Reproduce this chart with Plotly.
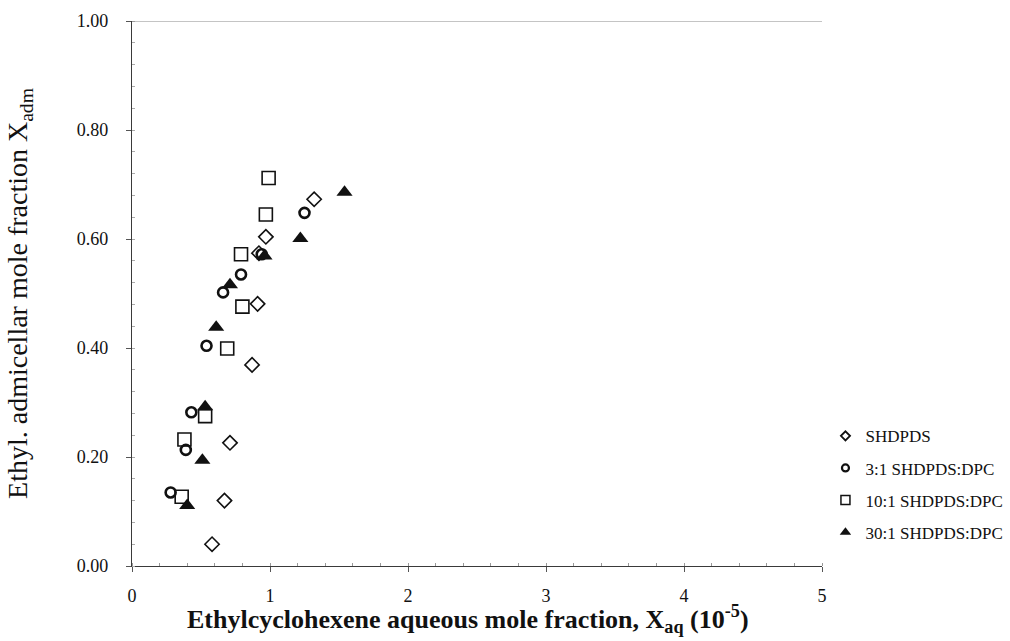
import plotly.graph_objects as go

# Ethylcyclohexene aqueous mole fraction (x 1e-5) and admicellar mole fraction
shdpds_x = [0.58, 0.67, 0.71, 0.87, 0.91, 0.92, 0.97, 1.32]
shdpds_y = [0.04, 0.12, 0.226, 0.369, 0.481, 0.574, 0.604, 0.673]

r3_x = [0.28, 0.39, 0.43, 0.54, 0.66, 0.79, 0.94, 1.25]
r3_y = [0.135, 0.213, 0.282, 0.404, 0.502, 0.535, 0.572, 0.648]

r10_x = [0.36, 0.38, 0.53, 0.69, 0.80, 0.79, 0.97, 0.99]
r10_y = [0.127, 0.232, 0.275, 0.399, 0.476, 0.572, 0.645, 0.712]

r30_x = [0.40, 0.51, 0.53, 0.61, 0.71, 0.96, 1.22, 1.54]
r30_y = [0.111, 0.194, 0.292, 0.438, 0.516, 0.569, 0.601, 0.686]

series_names = ["SHDPDS", "3:1 SHDPDS:DPC", "10:1 SHDPDS:DPC", "30:1 SHDPDS:DPC"]

x_ticks = [0, 1, 2, 3, 4, 5]
y_ticks = [0.0, 0.2, 0.4, 0.6, 0.8, 1.0]
y_tick_text = ["0.00", "0.20", "0.40", "0.60", "0.80", "1.00"]

x_title = "<b>Ethylcyclohexene aqueous mole fraction, X<sub>aq</sub> (10<sup>-5</sup>)</b>"
y_title = "Ethyl. admicellar mole fraction X<sub>adm</sub>"

SERIF = "Liberation Serif, Times New Roman, serif"
INK = "#111111"

styles = [
    dict(symbol="diamond-open", size=11, color=INK, line=dict(width=1.6, color=INK)),
    dict(symbol="circle-open", size=10, color=INK, line=dict(width=2.6, color=INK)),
    dict(symbol="square-open", size=13, color=INK, line=dict(width=1.6, color=INK)),
    dict(symbol="triangle-up", size=14, color=INK, line=dict(width=0)),
]
legend_styles = [
    dict(symbol="diamond-open", size=7, color=INK, line=dict(width=1.8, color=INK)),
    dict(symbol="circle-open", size=7, color=INK, line=dict(width=2.2, color=INK)),
    dict(symbol="square-open", size=9, color=INK, line=dict(width=1.5, color=INK)),
    dict(symbol="triangle-up", size=10, color=INK, line=dict(width=0)),
]

data = [(shdpds_x, shdpds_y), (r3_x, r3_y), (r10_x, r10_y), (r30_x, r30_y)]

fig = go.Figure()
for (xs, ys), name, st in zip(data, series_names, styles):
    fig.add_trace(go.Scatter(x=xs, y=ys, mode="markers", name=name,
                             marker=st, showlegend=False, cliponaxis=False))
# legend entries with smaller symbols
for i, (name, st) in enumerate(zip(series_names, legend_styles)):
    fig.add_trace(go.Scatter(x=[None], y=[None], mode="markers", name=name,
                             marker=st, legendgroup=f"g{i}", showlegend=True))

# light top border line
fig.add_shape(type="line", x0=0, x1=5, y0=1, y1=1, xref="x", yref="y",
              line=dict(color="#8a8a8a", width=1.2))

# x-axis title placed just below the tick labels
fig.add_annotation(text=x_title, xref="paper", yref="paper", x=0.487, y=-0.097,
                   xanchor="center", yanchor="middle", showarrow=False,
                   font=dict(family=SERIF, size=26, color=INK))

fig.update_layout(
    width=1010, height=641,
    margin=dict(l=132, r=188, t=21, b=75, autoexpand=False),
    paper_bgcolor="white", plot_bgcolor="white",
    font=dict(family=SERIF, color=INK),
    showlegend=True,
    legend=dict(x=1.005, xanchor="left", y=0.271, yanchor="top",
                font=dict(family=SERIF, size=17, color=INK),
                bgcolor="rgba(0,0,0,0)", tracegroupgap=7,
                itemclick=False),
    xaxis=dict(
        range=[0, 5], tickvals=x_ticks, ticktext=[str(v) for v in x_ticks],
        showgrid=False, zeroline=False,
        showline=True, linecolor="#3a3a3a", linewidth=1.4,
        ticks="outside", ticklen=5, tickcolor="#555", tickwidth=1,
        minor=dict(dtick=0.2, ticks="inside", ticklen=3, tickcolor="#999"),
        tickfont=dict(family=SERIF, size=18, color=INK),
        ticklabelstandoff=8,
    ),
    yaxis=dict(
        range=[0, 1], tickvals=y_ticks, ticktext=y_tick_text,
        showgrid=False, zeroline=False,
        showline=True, linecolor="#3a3a3a", linewidth=1.4,
        ticks="outside", ticklen=5, tickcolor="#555", tickwidth=1,
        minor=dict(dtick=0.04, ticks="inside", ticklen=3, tickcolor="#aaa"),
        tickfont=dict(family=SERIF, size=18, color=INK),
        ticklabelstandoff=14,
        title=dict(text=y_title,
                   font=dict(family=SERIF, size=28, color=INK), standoff=40),
    ),
)

fig.write_html("out.html")
